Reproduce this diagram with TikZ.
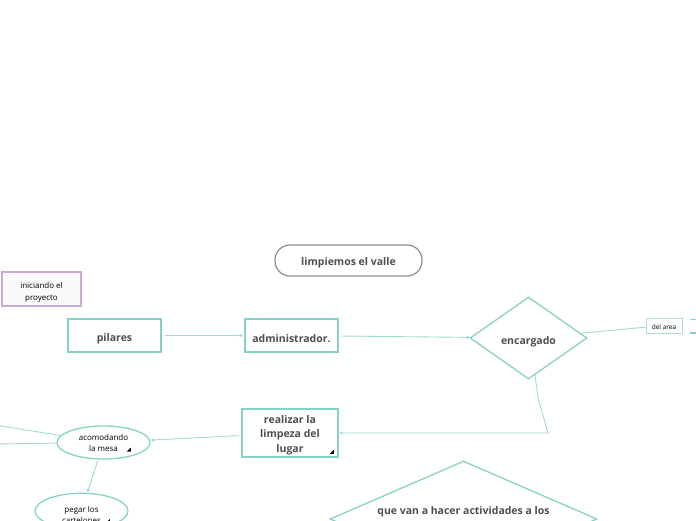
\documentclass[tikz,border=0pt]{standalone}
\usepackage{fontspec}
\setmainfont{Open Sans}
\usepackage{xcolor}
\usepackage{tikz}
\usetikzlibrary{calc,arrows.meta,shapes.geometric}
\definecolor{teal}{HTML}{86D3C6}
\definecolor{tealline}{HTML}{9EDBD1}
\definecolor{ink}{HTML}{4F4F4F}
\definecolor{frame}{HTML}{8C8C8C}
\definecolor{lilac}{HTML}{C9A9DA}
\tikzset{
  conn/.style={draw=tealline, line width=0.9pt, -{Latex[length=3.5pt,width=3.5pt]}},
  plain/.style={draw=tealline, line width=0.9pt},
  topic/.style={draw=teal, line width=1.6pt, fill=white, text=ink, font=\fontsize{10.5}{14.5}\selectfont\bfseries, align=center},
  rhomb/.style={diamond, draw=teal, line width=1.3pt, fill=white, inner sep=0pt, text=ink, font=\fontsize{10.5}{14}\selectfont\bfseries, align=center},
  oval/.style={ellipse, draw=teal, line width=1.3pt, fill=white, inner sep=0pt, text=black, font=\fontsize{8}{11}\selectfont, align=center},
  note/.style={draw=teal!70, line width=0.8pt, fill=white, text=black, font=\fontsize{6.5}{8}\selectfont, inner sep=2pt},
  tri/.style={fill=black}
}

\begin{document}
\begin{tikzpicture}[x=1pt,y=-1pt]
  \useasboundingbox (0,0) rectangle (696,520);
  \clip (0,0) rectangle (696,520);

  % main title
  \node[draw=frame, line width=1.2pt, rounded corners=15pt, fill=white, text=ink,
        font=\fontsize{10.5}{13}\selectfont\bfseries,
        minimum width=147pt, minimum height=31pt] (valle) at (348.5,260.5) {\rule{0pt}{12pt}limpiemos el valle};

  % floating note
  \node[draw=lilac, line width=1.3pt, fill=black!2, font=\fontsize{8}{11.5}\selectfont,
        align=center, minimum width=79pt, minimum height=34pt] (inicio) at (41.5,289) {\rule{0pt}{13pt}iniciando el\\proyecto};

  % first row
  \node[topic, minimum width=93pt, minimum height=33pt] (pilares) at (114.5,335.5) {\rule{0pt}{15pt}pilares};
  \node[topic, minimum width=93pt, minimum height=33pt] (admin) at (291.5,335.5) {\rule{0pt}{15pt}administrador.};
  \node[rhomb, aspect=1.43, minimum width=117pt, minimum height=82pt] (encargado) at (528.5,338) {\rule{0pt}{16pt}encargado};
  \node[note, minimum width=36pt, minimum height=15pt] (delarea) at (664,325.5) {\rule{0pt}{8pt}del area};

  % second row
  \node[topic, inner ysep=0pt, minimum width=96pt, minimum height=48pt] (realizar) at (290,433) {\rule{0pt}{12pt}realizar la\\limpeza del\\lugar};
  \node[oval, minimum width=93pt, minimum height=33pt] (acomodando) at (103.5,442.5) {\rule{0pt}{8pt}acomodando\\la mesa};
  \node[oval, minimum width=93pt, minimum height=32pt] (pegar) at (81.5,511) {\rule{0pt}{14pt}pegar los\\cartelones};
  \node[rhomb, aspect=2.3, minimum width=267pt, minimum height=116pt] (actividades) at (463.5,519) {\rule{0pt}{10pt}que van a hacer actividades a los\\\strut};

  % corner marks
  \fill[tri] ($(realizar.south east)+(-5,-4)$) -- ++(-4,0) -- ++(4,-4) -- cycle;
  \fill[tri] ($(acomodando.south east)+(-6,-3)$) -- ++(-4,0) -- ++(4,-4) -- cycle;
  \fill[tri] ($(pegar.south east)+(-5,-1)$) -- ++(-4,0) -- ++(4,-4) -- cycle;

  \coordinate (bendA) at (538,398);
  \coordinate (bendB) at (548,433);
  \coordinate (offA) at (-5,425);
  \coordinate (offB) at (-5,444);

  % connectors
  \draw[conn, shorten <=3pt, shorten >=1pt] (pilares) -- (admin);
  \draw[conn, shorten <=3pt] (admin) -- (encargado);
  \draw[plain] (encargado) -- (delarea);
  \draw[conn] (encargado.-80) -- (bendA) -- (bendB) -- (realizar);
  \draw[conn, shorten <=2pt] (realizar) -- (acomodando);
  \draw[conn, shorten <=1pt] (acomodando) -- (pegar);
  \draw[plain] (acomodando) -- (offA);
  \draw[plain] (acomodando) -- (offB);

  % next branch, cut off at the edge
  \draw[draw=teal, line width=1.3pt] (690,319.5) -- (700,319.5);
  \draw[draw=teal, line width=1.3pt] (690,333) -- (700,333);
\end{tikzpicture}
\end{document}
